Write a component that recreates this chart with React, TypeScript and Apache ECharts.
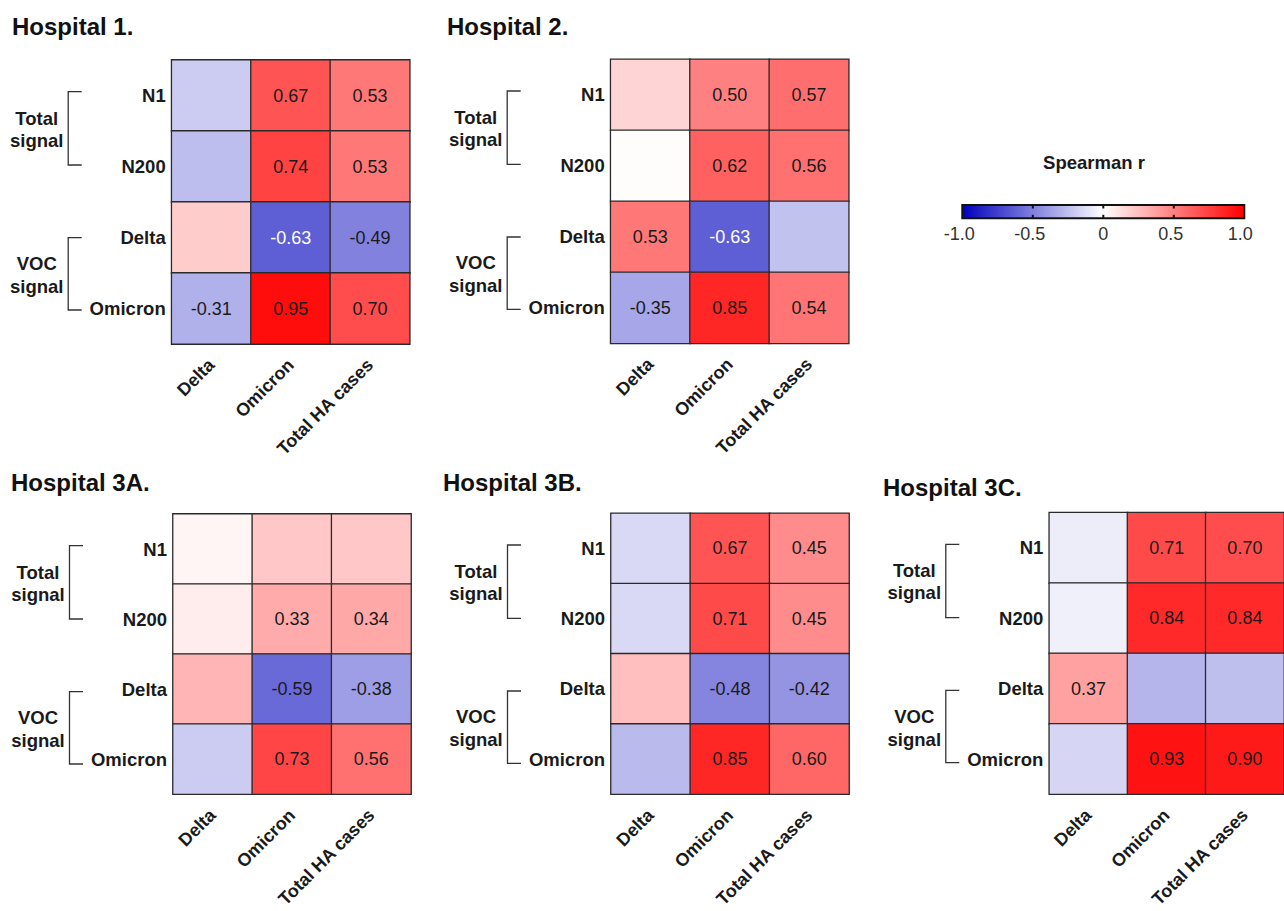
import React, { useEffect, useRef } from "react";
import * as echarts from "echarts";

const rowLabels = ["N1", "N200", "Delta", "Omicron"];
const colLabels = ["Delta", "Omicron", "Total HA cases"];
const panelTitles = ["Hospital 1.", "Hospital 2.", "Hospital 3A.", "Hospital 3B.", "Hospital 3C."];

// Spearman r values (rows: N1, N200, Delta, Omicron; cols: Delta, Omicron, Total HA cases)
const h1Values = [[-0.2, 0.67, 0.53], [-0.26, 0.74, 0.53], [0.2, -0.63, -0.49], [-0.31, 0.95, 0.7]];
const h1Shown = [[0, 1, 1], [0, 1, 1], [0, 1, 1], [1, 1, 1]];
const h2Values = [[0.17, 0.5, 0.57], [0.01, 0.62, 0.56], [0.53, -0.63, -0.24], [-0.35, 0.85, 0.54]];
const h2Shown = [[0, 1, 1], [0, 1, 1], [1, 1, 0], [1, 1, 1]];
const h3aValues = [[0.04, 0.22, 0.22], [0.07, 0.33, 0.34], [0.29, -0.59, -0.38], [-0.2, 0.73, 0.56]];
const h3aShown = [[0, 0, 0], [0, 1, 1], [0, 1, 1], [0, 1, 1]];
const h3bValues = [[-0.15, 0.67, 0.45], [-0.15, 0.71, 0.45], [0.25, -0.48, -0.42], [-0.27, 0.85, 0.6]];
const h3bShown = [[0, 1, 1], [0, 1, 1], [0, 1, 1], [0, 1, 1]];
const h3cValues = [[-0.07, 0.71, 0.7], [-0.06, 0.84, 0.84], [0.37, -0.29, -0.25], [-0.16, 0.93, 0.9]];
const h3cShown = [[0, 1, 1], [0, 1, 1], [1, 0, 0], [0, 1, 1]];

const colorbarTicks = [-1, -0.5, 0, 0.5, 1];
const colorbarTickLabels = ["-1.0", "-0.5", "0", "0.5", "1.0"];

const FONT = "'Liberation Sans', Arial, Helvetica, sans-serif";
const BLUE = "#0000bc";
const RED = "#ff0000";

export default function App() {
  const ref = useRef<HTMLDivElement>(null);

  useEffect(() => {
    if (!ref.current) return;
    const chart = echarts.init(ref.current, null, { renderer: "svg" });

    const allValues = [h1Values, h2Values, h3aValues, h3bValues, h3cValues];
    const allShown = [h1Shown, h2Shown, h3aShown, h3bShown, h3cShown];

    // layout
    const gridLeft = [171.7, 610.7, 173, 611, 1049.3];
    const gridTop = [60, 59.3, 514, 513.3, 512.7];
    const gridW = 238;
    const gridH = 284;
    const titlePos = [[12, 38], [447, 38], [11, 494], [443, 494], [883, 499]];

    const grids: any[] = [];
    const xAxes: any[] = [];
    const yAxes: any[] = [];
    const series: any[] = [];
    const graphics: any[] = [];

    for (let i = 0; i < 5; i++) {
      grids.push({ left: gridLeft[i], top: gridTop[i], width: gridW, height: gridH, containLabel: false });
      xAxes.push({
        type: "category",
        gridIndex: i,
        data: colLabels,
        position: "bottom",
        axisLine: { show: false },
        axisTick: { show: false },
        splitLine: { show: false },
        axisLabel: {
          interval: 0,
          rotate: 45,
          margin: 18,
          fontFamily: FONT,
          fontWeight: "bold",
          fontSize: 18,
          color: "#1a1a1a",
        },
      });
      yAxes.push({
        type: "category",
        gridIndex: i,
        data: rowLabels,
        inverse: true,
        axisLine: { show: false },
        axisTick: { show: false },
        splitLine: { show: false },
        axisLabel: {
          interval: 0,
          margin: 6,
          fontFamily: FONT,
          fontWeight: "bold",
          fontSize: 18.5,
          color: "#1a1a1a",
        },
      });
      const data: any[] = [];
      allValues[i].forEach((row, r) => {
        row.forEach((v, c) => {
          data.push({
            value: [c, r, v],
            label: { show: !!allShown[i][r][c], color: v <= -0.6 ? "#ffffff" : "#1a1a1a" },
          });
        });
      });
      series.push({
        type: "heatmap",
        name: panelTitles[i],
        xAxisIndex: i,
        yAxisIndex: i,
        data,
        itemStyle: { borderColor: "#2a2a2a", borderWidth: 1.3 },
        label: {
          show: true,
          fontFamily: FONT,
          fontSize: 18,
          formatter: (p: any) => Number(p.value[2]).toFixed(2),
        },
        emphasis: { disabled: true },
      });

      // title
      graphics.push({
        type: "text",
        x: titlePos[i][0],
        y: titlePos[i][1],
        style: {
          text: panelTitles[i],
          font: `bold 24px ${FONT}`,
          fill: "#111",
          align: "left",
          verticalAlign: "bottom",
        },
      });

      // brackets
      const gl = gridLeft[i];
      const gt = gridTop[i];
      const bx = gl - 103.5;
      const bx2 = gl - 90;
      graphics.push({
        type: "polyline",
        shape: { points: [[bx2, gt + 31.7], [bx, gt + 31.7], [bx, gt + 105], [bx2, gt + 105]] },
        style: { stroke: "#333", lineWidth: 1.3, fill: null },
      });
      graphics.push({
        type: "polyline",
        shape: { points: [[bx2, gt + 177.7], [bx, gt + 177.7], [bx, gt + 250], [bx2, gt + 250]] },
        style: { stroke: "#333", lineWidth: 1.3, fill: null },
      });
      graphics.push({
        type: "text",
        x: gl - 135,
        y: gt + 69,
        style: {
          text: "Total\nsignal",
          font: `bold 18.5px ${FONT}`,
          fill: "#1a1a1a",
          align: "center",
          verticalAlign: "middle",
          lineHeight: 22,
        },
      });
      graphics.push({
        type: "text",
        x: gl - 135,
        y: gt + 215,
        style: {
          text: "VOC\nsignal",
          font: `bold 18.5px ${FONT}`,
          fill: "#1a1a1a",
          align: "center",
          verticalAlign: "middle",
          lineHeight: 23,
        },
      });
    }

    // colour bar
    const cbX = 962.3;
    const cbY = 205;
    const cbW = 282;
    const cbH = 13.3;
    graphics.push({
      type: "text",
      x: 1094,
      y: 162,
      style: {
        text: "Spearman r",
        font: `bold 18.5px ${FONT}`,
        fill: "#1a1a1a",
        align: "center",
        verticalAlign: "middle",
      },
    });
    graphics.push({
      type: "rect",
      shape: { x: cbX, y: cbY, width: cbW, height: cbH },
      style: {
        fill: {
          type: "linear",
          x: 0,
          y: 0,
          x2: 1,
          y2: 0,
          colorStops: [
            { offset: 0, color: BLUE },
            { offset: 0.5, color: "#ffffff" },
            { offset: 1, color: RED },
          ],
        },
        stroke: "#111",
        lineWidth: 2,
      },
    });
    const labelOffsets = [-3, -3, 0, -3, -4];
    colorbarTicks.forEach((t, k) => {
      const x = cbX + ((t + 1) / 2) * cbW;
      if (k > 0 && k < colorbarTicks.length - 1) {
        graphics.push({
          type: "line",
          shape: { x1: x, y1: cbY, x2: x, y2: cbY + 3.5 },
          style: { stroke: "#111", lineWidth: 2 },
        });
        graphics.push({
          type: "line",
          shape: { x1: x, y1: cbY + cbH - 3.5, x2: x, y2: cbY + cbH },
          style: { stroke: "#111", lineWidth: 2 },
        });
      }
      graphics.push({
        type: "text",
        x: x + labelOffsets[k],
        y: 234,
        style: {
          text: colorbarTickLabels[k],
          font: `18px ${FONT}`,
          fill: "#333",
          align: "center",
          verticalAlign: "middle",
        },
      });
    });

    chart.setOption({
      animation: false,
      backgroundColor: "#ffffff",
      textStyle: { fontFamily: FONT },
      grid: grids,
      xAxis: xAxes,
      yAxis: yAxes,
      visualMap: {
        type: "continuous",
        show: false,
        min: -1,
        max: 1,
        dimension: 2,
        seriesIndex: [0, 1, 2, 3, 4],
        inRange: { color: [BLUE, "#ffffff", RED] },
      },
      series,
      graphic: graphics,
    });

    return () => chart.dispose();
  }, []);

  return (
    <div
      ref={ref}
      style={{ position: "fixed", left: 0, top: 0, width: 1284, height: 911, background: "#fff" }}
    />
  );
}
